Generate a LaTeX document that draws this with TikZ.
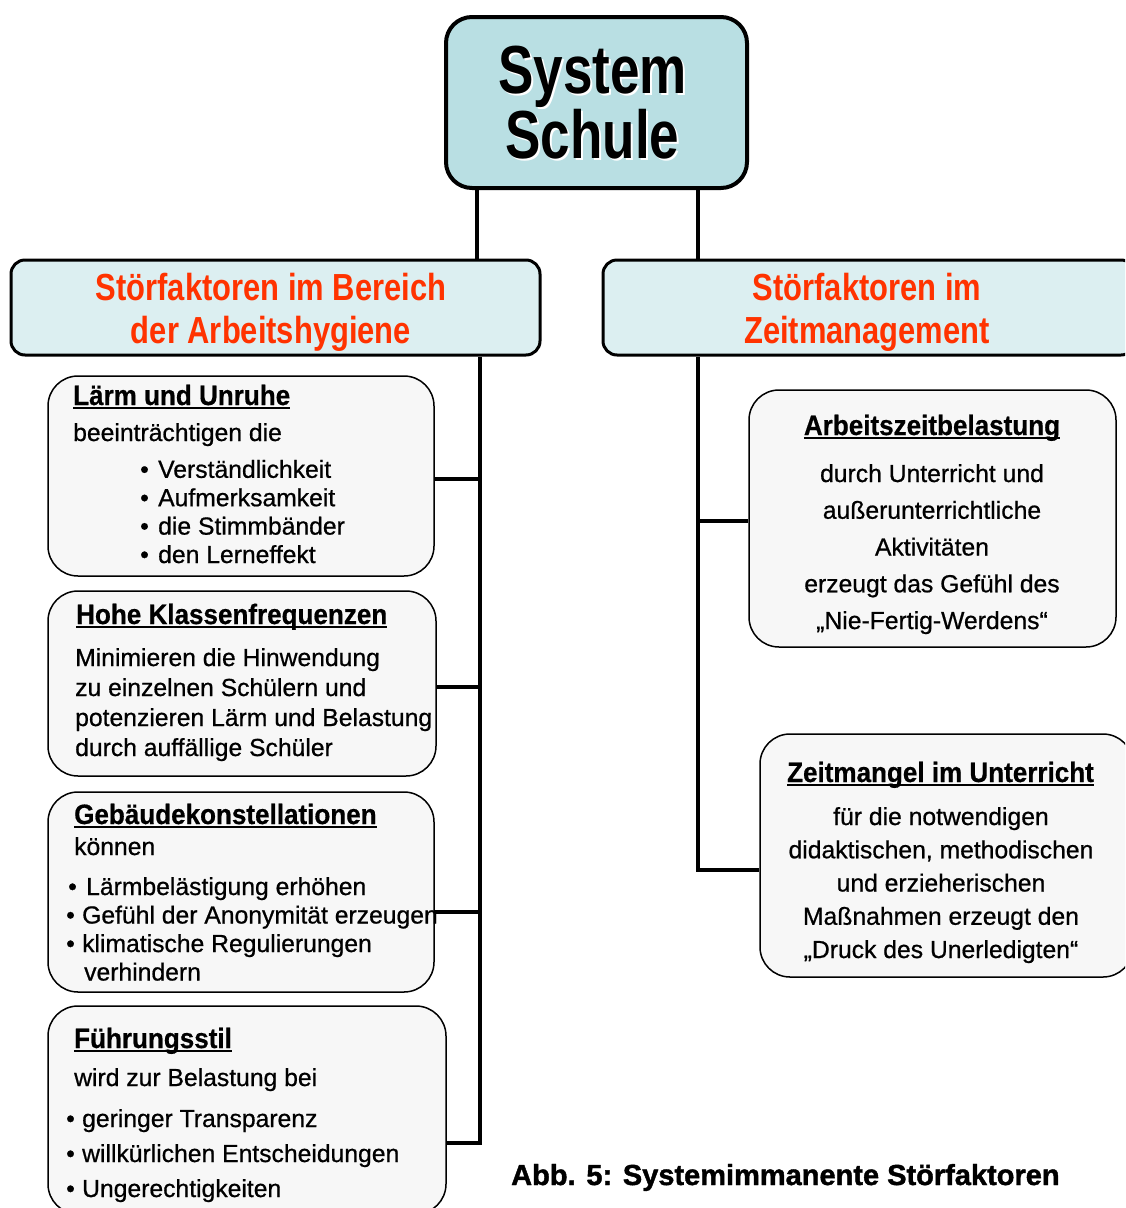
\documentclass[tikz,border=0pt]{standalone}
\usepackage{fontspec}
\setmainfont{Liberation Sans}
\newfontfamily\bodyfont[FakeBold=0.7]{Liberation Sans}
\newfontfamily\sysfont[FakeStretch=0.78]{Liberation Sans}
\newfontfamily\headfont[FakeStretch=0.82]{Liberation Sans}
\newfontfamily\titlefont[FakeStretch=0.93,FakeBold=0.6]{Liberation Sans}
\newfontfamily\abbfont[FakeBold=1.4]{Liberation Sans}

\definecolor{kopfblau}{HTML}{B9DFE3}
\definecolor{leistenblau}{HTML}{DCEFF1}
\definecolor{feldgrau}{HTML}{F7F7F7}
\definecolor{signalrot}{HTML}{FF3300}

\newcommand\unterstr[1]{\setbox0\hbox{#1}\rlap{\rule[-3.5pt]{\wd0}{1.6pt}}\box0}
\newcommand\pkt[1][16pt]{\makebox[#1][l]{•}}

\tikzset{
  kopfbox/.style={draw, line width=4, rounded corners=26, fill=kopfblau},
  leiste/.style={draw, line width=3, rounded corners=14, fill=leistenblau},
  leistentext/.style={inner sep=0, text=signalrot, align=center,
    font=\headfont\bfseries\fontsize{37.7}{43}\selectfont},
  feld/.style={draw, line width=1.5, rounded corners=30, fill=feldgrau},
  sys/.style={inner sep=0, align=center, font=\sysfont\bfseries\fontsize{68}{65}\selectfont},
  titel/.style={inner sep=0, font=\titlefont\bfseries\fontsize{28}{28}\selectfont},
  txt/.style={inner sep=0, font=\bodyfont\fontsize{24.7}{#1}\selectfont},
  txt/.default=30,
  verb/.style={line width=3.5},
}

\begin{document}
\begin{tikzpicture}[x=1pt, y=-1pt]
  \useasboundingbox (0,0) rectangle (1125,1208);
  \clip (0,0) rectangle (1125,1208);

  % oben
  \node[kopfbox, minimum width=301, minimum height=171] (kopf) at (596.5,102.5) {};
  \node[sys, text=white, anchor=base] (schatten) at (594.5,160) {System\\Schule};
  \node[sys, anchor=base] (system) at (592.5,158) {System\\Schule};

  % Leisten
  \node[leiste, minimum width=529, minimum height=95] (links) at (275.5,307.5) {};
  \node[leiste, minimum width=532, minimum height=95] (rechts) at (869,307.5) {};
  \node[leistentext, anchor=base] (links-text) at (271,343) {Störfaktoren im Bereich\\der Arbeitshygiene};
  \node[leistentext, anchor=base] (rechts-text) at (867,343) {Störfaktoren im\\Zeitmanagement};

  % linke Felder
  \node[feld, minimum width=386, minimum height=200] (laerm) at (241,476) {};
  \node[feld, minimum width=388, minimum height=185] (klassen) at (242,683.5) {};
  \node[feld, minimum width=386, minimum height=200] (gebaeude) at (241,892) {};
  \node[feld, minimum width=398, minimum height=208] (fuehrung) at (247,1110) {};

  % rechte Felder
  \node[feld, minimum width=367, minimum height=257] (arbeitszeit) at (932.5,518.5) {};
  \node[feld, minimum width=373, minimum height=243] (zeitmangel) at (946.5,855.5) {};

  % Verbindungen
  \coordinate (lo) at (477,0);
  \coordinate (ro) at (698,0);
  \coordinate (lu) at (480,0);
  \coordinate (ru) at (698,0);
  \draw[verb] (kopf.south -| lo) -- (links.north -| lo);
  \draw[verb] (kopf.south -| ro) -- (rechts.north -| ro);
  \draw[verb] (links.south -| lu) |- ([yshift=-33pt]fuehrung.east);
  \draw[verb] ([yshift=-3pt]laerm.east) -- ([yshift=-3pt]laerm.east -| lu);
  \draw[verb] ([yshift=-3.5pt]klassen.east) -- ([yshift=-3.5pt]klassen.east -| lu);
  \draw[verb] ([yshift=-20pt]gebaeude.east) -- ([yshift=-20pt]gebaeude.east -| lu);
  \draw[verb] (rechts.south -| ru) |- ([yshift=-14.5pt]zeitmangel.west);
  \draw[verb] ([yshift=-2.5pt]arbeitszeit.west) -- ([yshift=-2.5pt]arbeitszeit.west -| ru);

  % Texte links (Mehrzeiler sitzen auf der letzten Grundlinie)
  \node[titel, anchor=base west] (t-laerm) at (73,405) {\unterstr{Lärm und Unruhe}};
  \node[txt, anchor=base west] (a-laerm) at (73,441) {beeinträchtigen die};
  \node[txt=28.4, anchor=base west, align=left] (l-laerm) at (140,563)
    {\pkt[18pt]Verständlichkeit\\\pkt[18pt]Aufmerksamkeit\\\pkt[18pt]die Stimmbänder\\\pkt[18pt]den Lerneffekt};

  \node[titel, anchor=base west] (t-klassen) at (76,624) {\unterstr{Hohe Klassenfrequenzen}};
  \node[txt=30, anchor=base west, align=left] (l-klassen) at (75,756)
    {Minimieren die Hinwendung\\zu einzelnen Schülern und\\potenzieren Lärm und Belastung\\durch auffällige Schüler};

  \node[titel, anchor=base west] (t-gebaeude) at (74,824) {\unterstr{Gebäudekonstellationen}};
  \node[txt, anchor=base west] (a-gebaeude) at (74,855) {können};
  \node[txt=28.5, anchor=base west, align=left] (l-gebaeude) at (66,980.5)
    {\hspace{2pt}\pkt[18pt]Lärmbelästigung erhöhen\\\pkt Gefühl der Anonymität erzeugen\\\pkt klimatische Regulierungen\\\hspace{18pt}verhindern};

  \node[titel, anchor=base west] (t-fuehrung) at (74,1048) {\unterstr{Führungsstil}};
  \node[txt, anchor=base west] (a-fuehrung) at (74,1086) {wird zur Belastung bei};
  \node[txt=35, anchor=base west, align=left] (l-fuehrung) at (66,1197)
    {\pkt geringer Transparenz\\\pkt willkürlichen Entscheidungen\\\pkt Ungerechtigkeiten};

  % Texte rechts
  \node[titel, anchor=base] (t-arbeitszeit) at (932,435) {\unterstr{Arbeitszeitbelastung}};
  \node[txt=36.75, anchor=base, align=center] (l-arbeitszeit) at (932,629)
    {durch Unterricht und\\außerunterrichtliche\\Aktivitäten\\erzeugt das Gefühl des\\„Nie-Fertig-Werdens“};

  \node[titel, anchor=base] (t-zeitmangel) at (940.5,782) {\unterstr{Zeitmangel im Unterricht}};
  \node[txt=33.25, anchor=base, align=center] (l-zeitmangel) at (941,958)
    {für die notwendigen\\didaktischen, methodischen\\und erzieherischen\\Maßnahmen erzeugt den\\„Druck des Unerledigten“};

  % Unterschrift
  \node[anchor=base west, inner sep=0, font=\abbfont\bfseries\fontsize{29}{30}\selectfont] (abb) at (511,1185)
    {Abb. 5: Systemimmanente Störfaktoren};
\end{tikzpicture}
\end{document}
